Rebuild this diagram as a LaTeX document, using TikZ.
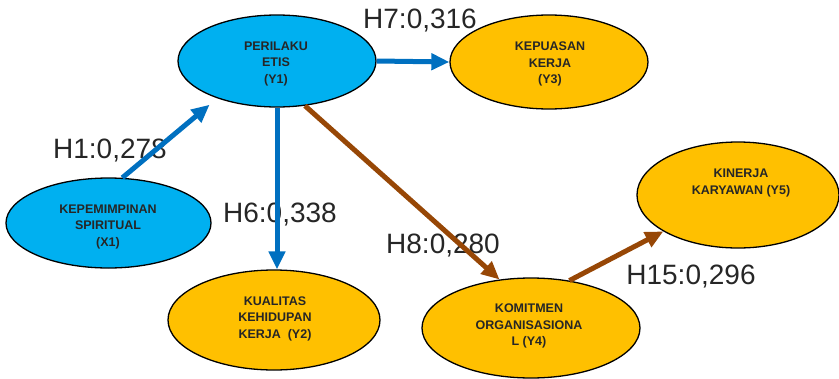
\documentclass[tikz,border=0pt]{standalone}
\usepackage{fontspec}
\setmainfont{Liberation Sans}[BoldFont={Liberation Sans Bold}]
\usetikzlibrary{shapes.geometric,arrows.meta,calc}
\definecolor{skyfill}{RGB}{0,176,240}
\definecolor{amberfill}{RGB}{255,192,0}
\definecolor{linkblue}{RGB}{0,112,192}
\definecolor{linkbrown}{RGB}{151,71,6}
\definecolor{inkgray}{RGB}{38,38,38}
\begin{document}
\begin{tikzpicture}[x=1pt,y=-1pt,
  construct/.style={ellipse, draw=black, line width=1.3pt, inner sep=0pt},
  exo/.style={construct, fill=skyfill},
  endo/.style={construct, fill=amberfill},
  ctext/.style={font=\bfseries\fontsize{12.5}{16.5}\selectfont, text=inkgray, align=center, inner sep=0pt},
  coef/.style={font=\fontsize{28}{30}\selectfont, text=inkgray, inner sep=0pt, anchor=base},
  bluepath/.style={draw=linkblue, line width=5pt, -{Triangle[length=18pt,width=16pt]}},
  brownpath/.style={draw=linkbrown, line width=5pt, -{Triangle[length=18pt,width=16pt]}},
]
\useasboundingbox (0,0) rectangle (839,378);

% constructs
\node[exo,  minimum width=205pt, minimum height=90pt]  (x1) at (108.5,223) {};
\node[exo,  minimum width=198pt, minimum height=92pt]  (y1) at (277,61) {};
\node[endo, minimum width=198pt, minimum height=94pt]  (y3) at (549,62) {};
\node[endo, minimum width=212pt, minimum height=100pt] (y2) at (274,320) {};
\node[endo, minimum width=218pt, minimum height=100pt] (y4) at (531,328) {};
\node[endo, minimum width=202pt, minimum height=106pt] (y5) at (738,195) {};

% construct names
\node[ctext] (x1t) at (108,226.5) {KEPEMIMPINAN\\SPIRITUAL\\(X1)};
\node[ctext] (y1t) at (276,63.5) {PERILAKU\\ETIS\\(Y1)};
\node[ctext] (y3t) at (550,64) {KEPUASAN\\KERJA\\(Y3)};
\node[ctext] (y2t) at (275,318.5) {KUALITAS\\KEHIDUPAN\\KERJA\ \ (Y2)};
\node[ctext] (y4t) at (529,326) {KOMITMEN\\ORGANISASIONA\\L (Y4)};
\node[ctext] (y5t) at (741,183) {KINERJA\\KARYAWAN (Y5)};

% path coefficients
\node[coef] (h1)  at (110,158) {H1:0,278};
\node[coef] (h7)  at (420,28)  {H7:0,316};
\node[coef] (h6)  at (280,222) {H6:0,338};
\node[coef] (h8)  at (443,253) {H8:0,280};
\node[coef] (h15) at (691,284) {H15:0,296};

% paths
\draw[bluepath, shorten >=10pt] (x1.73) -- (y1.212);
\draw[bluepath] (y1.east) -- (y3.west);
\draw[bluepath] (y1.south) -- (y1.south |- y2.north);
\draw[brownpath] (y1.302) -- (y4.123);
\draw[brownpath] (y4.51) -- (y5.206);
\end{tikzpicture}
\end{document}
